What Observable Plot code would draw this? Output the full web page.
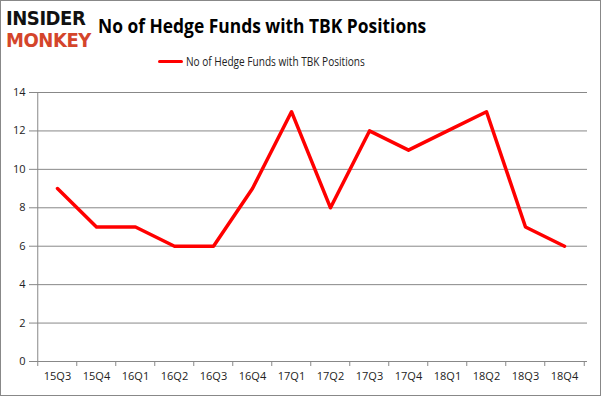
<!DOCTYPE html>
<html><head><meta charset="utf-8">
<script src="https://cdn.jsdelivr.net/npm/d3@7"></script>
<script src="https://cdn.jsdelivr.net/npm/@observablehq/plot@0.6"></script>
<style>
body{margin:0;background:#fff;}
#wrap{position:relative;width:599px;height:394px;border:1px solid #888;overflow:hidden;background:#fff;font-family:"Open Sans",sans-serif;}
#logo{position:absolute;left:5px;top:6px;font-family:"DejaVu Sans",sans-serif;font-weight:900;transform:scaleX(0.9);transform-origin:left top;}
#logo div{font-size:20px;line-height:22px;letter-spacing:-0.5px;}
#logo .a{color:#111;}
#logo .b{color:#d4452b;}
#title{position:absolute;left:97px;top:11px;font-size:20px;font-weight:bold;color:#000;white-space:nowrap;transform:scaleX(0.87);transform-origin:left top;}
#legend{position:absolute;left:157px;top:52px;font-size:12px;color:#222;white-space:nowrap;display:flex;align-items:center;}
#legend span.sw{display:inline-block;width:25px;height:3.5px;background:#f00;margin-right:3px;border-radius:2px;}
#legend span.t{display:inline-block;transform:scaleX(0.84);transform-origin:left center;}
#chart{position:absolute;left:0;top:0;}
</style></head>
<body><div id="wrap">
<div id="chart"></div>
<div id="logo"><div class="a">INSIDER</div><div class="b">MONKEY</div></div>
<div id="title">No of Hedge Funds with TBK Positions</div>
<div id="legend"><span class="sw"></span><span class="t">No of Hedge Funds with TBK Positions</span></div>
</div>
<script>
const quarters = ["15Q3","15Q4","16Q1","16Q2","16Q3","16Q4","17Q1","17Q2","17Q3","17Q4","18Q1","18Q2","18Q3","18Q4"];
const funds = [9,7,7,6,6,9,13,8,12,11,12,13,7,6];
const yTicks = [0,2,4,6,8,10,12,14];

const data = quarters.map((q,i)=>({q, v: funds[i]}));
const left = 33, right = 586;
const step = (right-left)/quarters.length;
const plot = Plot.plot({
  width: 599, height: 394,
  marginLeft: left, marginRight: 599-right, marginTop: 91, marginBottom: 34,
  style: {fontFamily: "Open Sans, sans-serif", fontSize: "11px", color: "#222", background: "transparent"},
  x: {type: "point", domain: quarters, padding: 0.5, label: null},
  y: {domain: [0,14], ticks: yTicks, label: null},
  marks: [
    Plot.gridY(yTicks, {stroke: "#888", strokeOpacity: 1}),
    Plot.axisY(yTicks, {tickSize: 5, stroke: "#888", tickPadding: 4, fill: "#222", fontSize: 11, label: null}),
    Plot.ruleX([quarters[0]], {dx: -step/2, stroke: "#888"}),
    Plot.ruleY([0], {stroke: "#888"}),
    Plot.axisX({ticks: quarters, tickSize: 0, tickPadding: 11, fill: "#222", fontSize: 11, label: null}),
    Plot.axisX({ticks: quarters, tickSize: 5, tickFormat: () => "", stroke: "#888", dx: -step/2, label: null}),
    Plot.axisX({ticks: [quarters[quarters.length-1]], tickSize: 5, tickFormat: () => "", stroke: "#888", dx: step/2, label: null}),
    Plot.line(data, {x: "q", y: "v", stroke: "#ff0000", strokeWidth: 3.5})
  ]
});
document.getElementById("chart").appendChild(plot);
</script>
</body></html>
